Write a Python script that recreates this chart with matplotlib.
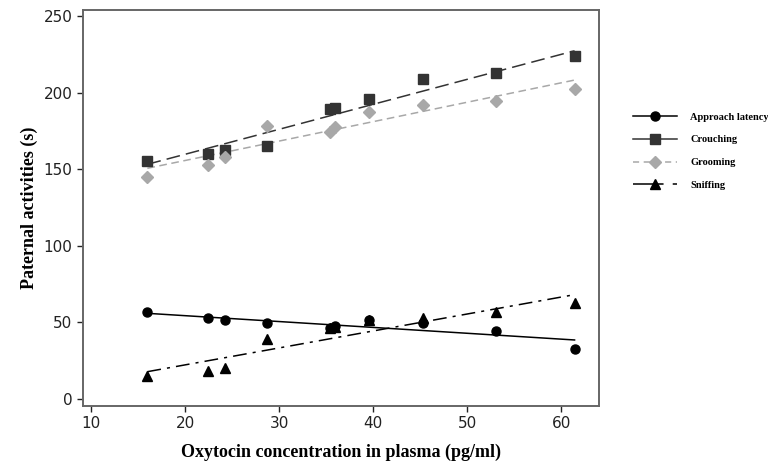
import numpy as np
import matplotlib
matplotlib.use('Agg')
import matplotlib.pyplot as plt

# oxytocin concentration (pg/ml) for each animal
oxytocin = [16.0, 22.4, 24.2, 28.7, 35.4, 35.9, 39.5, 45.3, 53.0, 61.4]

# paternal activities (s)
approach = [56.8, 52.7, 51.6, 49.8, 46.5, 47.3, 51.6, 49.8, 44.6, 32.4]
crouching = [155.4, 159.9, 162.5, 165.1, 189.0, 190.2, 196.0, 209.1, 212.6, 223.7]
grooming = [145.1, 152.9, 158.2, 178.2, 174.5, 177.3, 187.3, 191.9, 194.5, 202.2]
sniffing = [15.0, 18.5, 20.4, 39.4, 46.0, 47.0, 51.6, 52.9, 56.8, 62.7]

# fitted trend lines (values at first and last x)
fit_x = [16.0, 61.4]
approach_fit = [55.9, 38.5]
crouching_fit = [153.2, 227.3]
grooming_fit = [150.6, 208.2]
sniffing_fit = [17.8, 68.1]

labels = ['Approach latency', 'Crouching', 'Grooming', 'Sniffing']

fig = plt.figure(figsize=(7.68, 4.68), dpi=100)
ax = fig.add_axes([0.108, 0.1325, 0.672, 0.846])

series = [
    # data, fit, marker, colour, size, line dashes, legend dashes
    (approach, approach_fit, 'o', 'black', 6.5, None, None),
    (crouching, crouching_fit, 's', '#333333', 6.5, (9, 4), None),
    (grooming, grooming_fit, 'D', '#a8a8a8', 6.3, (5, 3), (4, 3)),
    (sniffing, sniffing_fit, '^', 'black', 7.0, (9, 4, 2, 4), (20, 6, 6, 6)),
]

handles = []
for (ys, fit, mk, col, ms, dashes, leg_dashes), lab in zip(series, labels):
    ax.plot(oxytocin, ys, ls='', marker=mk, color=col, ms=ms, zorder=3)
    ln, = ax.plot(fit_x, fit, color=col, lw=1.1, zorder=2)
    if dashes is not None:
        ln.set_dashes(dashes)
    h, = ax.plot([], [], color=col, lw=1.1, marker=mk, ms=ms)
    if leg_dashes is not None:
        h.set_dashes(leg_dashes)
    handles.append(h)

ax.set_xlim(9.15, 64.0)
ax.set_ylim(-4.6, 253.9)
ax.set_xticks([10, 20, 30, 40, 50, 60])
ax.set_yticks([0, 50, 100, 150, 200, 250])
ax.tick_params(labelsize=11, colors='#222222', length=4, width=1)
for sp in ax.spines.values():
    sp.set_color('#666666')
    sp.set_linewidth(1.4)

ax.set_xlabel('Oxytocin concentration in plasma (pg/ml)', family='Liberation Serif',
              fontweight='bold', fontsize=13, labelpad=9)
ax.set_ylabel('Paternal activities (s)', family='Liberation Serif',
              fontweight='bold', fontsize=13, labelpad=4)

fig.legend(handles, labels, loc='upper left', bbox_to_anchor=(0.812, 0.78),
           frameon=False, handlelength=4.2, handletextpad=1.3, labelspacing=1.3,
           prop={'family': 'Liberation Serif', 'weight': 'bold', 'size': 7.5})

fig.savefig('out.png', dpi=100)
